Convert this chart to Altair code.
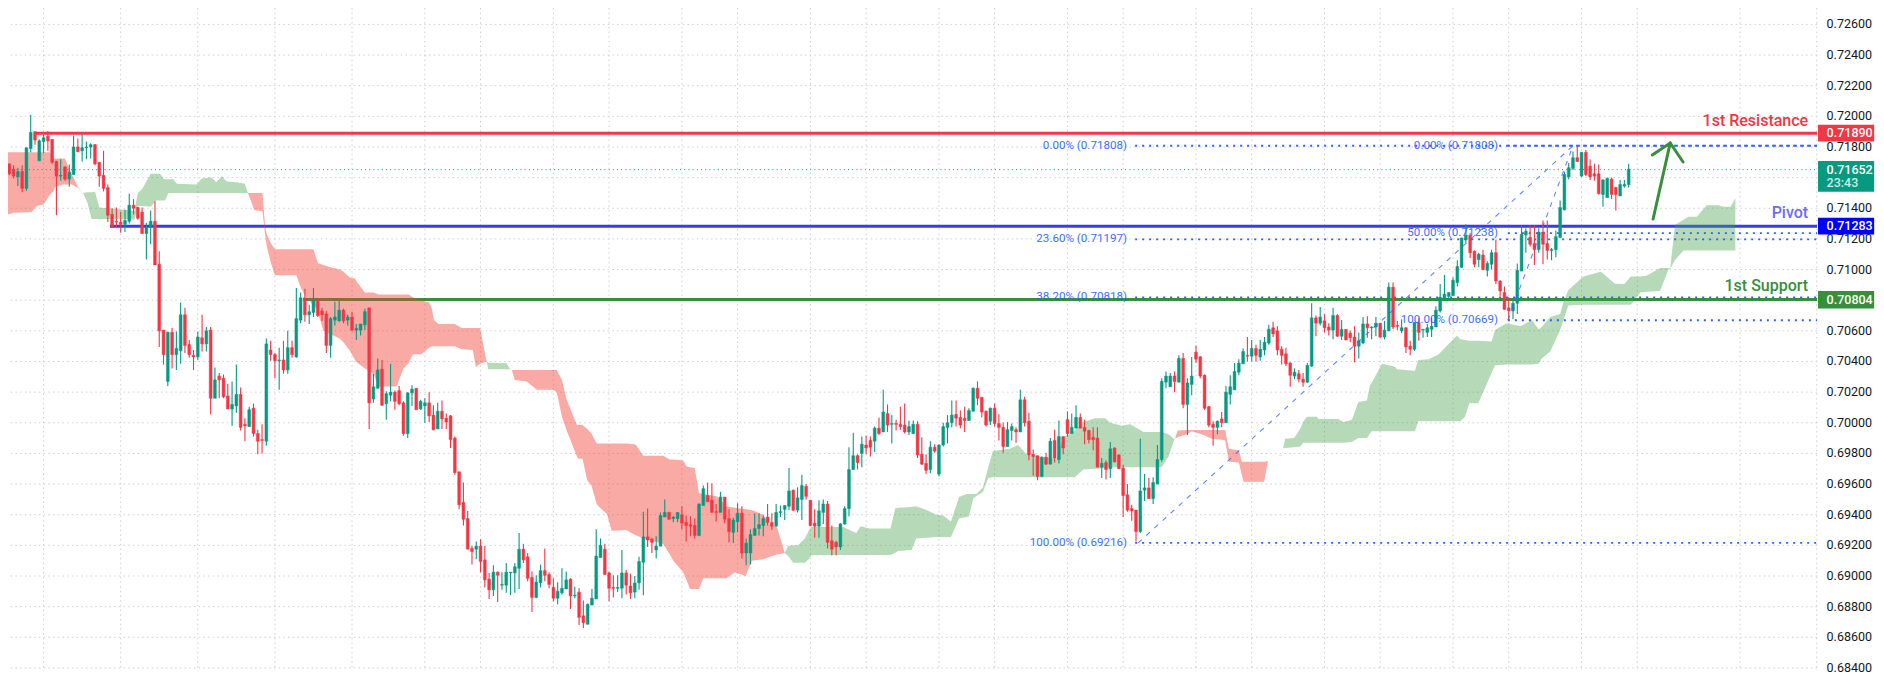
import pandas as pd
import altair as alt

# Prices below are in 1e-5 units
high = [
    71690,71680,71665,71680,71795,72010,71900,71850,71880,71905,
    71850,71710,71720,71675,71685,71875,71855,71885,71835,71825,
    71820,71700,71775,71555,71400,71405,71375,71390,71495,71460,
    71410,71405,71305,71385,71445,71120,70605,70595,70620,70595,
    70785,70750,70540,70475,70595,70705,70625,70625,70360,70325,
    70315,70255,70270,70380,70230,70030,70105,70125,69955,69990,
    70550,70535,70455,70490,70535,70600,70535,70880,70850,70875,
    70770,70880,70810,70750,70730,70690,70790,70795,70745,70705,
    70725,70645,70645,70745,70750,70320,70420,70410,70205,70385,
    70210,70240,70140,70200,70245,70225,70150,70160,70200,70115,
    70130,70145,70060,70050,69910,69680,69610,69425,69195,69225,
    69240,69195,69020,69070,69030,69025,69085,69025,69085,69280,
    69210,69150,69030,69005,69075,69180,69025,68985,68960,69050,
    69030,68985,68930,68920,68840,68820,68915,69305,69245,69210,
    69030,69005,69005,69170,69040,69015,69000,69125,69420,69440,
    69250,69260,69415,69500,69420,69390,69415,69455,69395,69390,
    69375,69475,69590,69610,69605,69470,69550,69515,69435,69380,
    69475,69455,69245,69305,69410,69410,69395,69470,69410,69470,
    69460,69460,69705,69565,69580,69660,69600,69495,69435,69495,
    69500,69490,69330,69230,69345,69455,69840,69935,69795,69910,
    69915,69910,69975,70035,70215,70120,70050,70020,70105,70125,
    70015,70015,70010,69905,69795,69880,69860,69860,70000,70050,
    70145,70145,70080,70105,70095,70230,70270,70170,70080,70100,
    70125,70055,70000,70005,69995,69970,70215,70170,70065,69825,
    69785,69780,69805,69900,69955,70015,69910,70075,70060,70115,
    70060,70020,69955,69970,69970,69770,69755,69875,69840,69795,
    69725,69600,69465,69430,69895,69665,69640,69645,69855,70290,
    70335,70325,70335,70440,70455,70290,70430,70505,70435,70315,
    70110,70010,70015,70070,70240,70310,70390,70415,70485,70560,
    70540,70510,70540,70560,70640,70660,70630,70500,70490,70395,
    70355,70345,70325,70390,70780,70700,70755,70710,70650,70750,
    70710,70670,70610,70600,70630,70590,70690,70695,70630,70690,
    70650,70665,70915,70915,70665,70675,70625,70535,70655,70685,
    70610,70645,70685,70760,70905,70965,70850,70950,71060,71210,
    71295,71240,71125,71110,71130,71055,71130,71195,70930,70890,
    70820,70815,71040,71290,71270,71290,71290,71270,71320,71320,
    71140,71255,71450,71640,71695,71770,71810,71765,71780,71720,
    71690,71685,71590,71600,71600,71540,71585,71585,71690,
]
body_top = [
    71690,71655,71640,71640,71795,71895,71900,71840,71860,71870,
    71850,71705,71615,71670,71635,71800,71800,71795,71800,71815,
    71815,71700,71615,71535,71360,71315,71310,71320,71420,71420,
    71405,71375,71275,71315,71315,71035,70605,70590,70590,70485,
    70705,70705,70510,70440,70560,70555,70600,70605,70280,70305,
    70290,70175,70120,70185,70185,69990,70085,70095,69930,69890,
    70515,70475,70445,70410,70410,70490,70490,70680,70815,70815,
    70725,70800,70800,70730,70710,70680,70690,70735,70735,70690,
    70690,70615,70645,70725,70750,70235,70345,70350,70190,70200,
    70200,70210,70130,70195,70220,70225,70140,70130,70130,70050,
    70075,70075,70030,70045,69900,69680,69480,69375,69180,69195,
    69195,69105,68980,69025,69025,68945,69025,69025,69060,69175,
    69175,69125,68990,68960,69035,69035,69010,68925,68900,68920,
    68975,68980,68875,68895,68740,68815,68855,69130,69200,69175,
    69020,68925,68925,69020,69020,68935,68955,69095,69255,69255,
    69240,69195,69395,69415,69415,69385,69415,69400,69350,69335,
    69330,69470,69570,69525,69495,69420,69515,69515,69375,69365,
    69410,69410,69215,69270,69310,69335,69375,69385,69350,69415,
    69420,69460,69555,69560,69510,69590,69585,69495,69345,69425,
    69470,69470,69230,69220,69340,69440,69695,69785,69785,69860,
    69855,69885,69965,69965,70070,70060,69995,69995,69990,69985,
    69975,69990,69990,69795,69735,69840,69840,69855,69975,70000,
    70050,70055,70035,70030,70080,70225,70225,70165,70075,70095,
    70095,69995,69970,69955,69975,69955,70150,70150,70010,69795,
    69785,69775,69775,69880,69885,69910,69910,70020,69970,70035,
    70035,69970,69950,69905,69900,69735,69740,69830,69835,69790,
    69705,69530,69440,69430,69555,69575,69575,69610,69760,70270,
    70305,70305,70305,70420,70420,70260,70305,70460,70430,70310,
    70105,69990,70010,70025,70200,70235,70335,70390,70465,70440,
    70485,70485,70480,70525,70610,70620,70600,70480,70450,70390,
    70330,70320,70285,70375,70685,70685,70690,70665,70625,70700,
    70700,70610,70610,70585,70560,70535,70645,70645,70625,70650,
    70650,70605,70885,70885,70635,70620,70620,70500,70655,70655,
    70610,70620,70630,70735,70820,70840,70850,70930,71020,71205,
    71225,71225,71120,71100,71095,71040,71110,71110,70925,70850,
    70750,70780,70995,71230,71250,71210,71170,71245,71245,71170,
    71130,71215,71405,71620,71665,71730,71730,71765,71765,71675,
    71625,71625,71585,71595,71590,71535,71555,71555,71655,
]
body_bot = [
    71625,71610,71605,71530,71530,71790,71845,71710,71835,71840,
    71700,71610,71610,71590,71590,71620,71770,71775,71795,71800,
    71690,71610,71530,71355,71275,71310,71295,71295,71315,71400,
    71335,71235,71235,71280,71030,70600,70445,70270,70445,70445,
    70470,70505,70445,70430,70430,70515,70515,70160,70160,70280,
    70170,70090,70090,70110,69970,69980,69975,69930,69880,69885,
    69880,70445,70405,70405,70345,70345,70445,70430,70670,70705,
    70705,70720,70700,70705,70505,70505,70670,70665,70665,70670,
    70605,70605,70605,70640,70130,70155,70225,70115,70125,70180,
    70140,70125,69930,69930,70195,70085,70090,70110,70045,69955,
    69960,70025,70005,69890,69675,69465,69370,69175,69160,69175,
    69095,68975,68910,68910,69005,68940,68940,69020,69020,69050,
    69105,68985,68860,68860,68955,69005,68945,68855,68855,68890,
    68915,68870,68870,68730,68695,68685,68810,68850,69120,69010,
    68920,68920,68920,68920,68940,68890,68895,68955,69090,69235,
    69220,69170,69195,69385,69370,69375,69375,69345,69330,69325,
    69265,69265,69460,69485,69415,69415,69415,69370,69290,69285,
    69355,69150,69150,69150,69265,69310,69330,69350,69325,69325,
    69415,69435,69455,69430,69430,69500,69520,69330,69325,69325,
    69415,69220,69175,69190,69190,69340,69440,69695,69740,69800,
    69835,69840,69880,69930,69940,69985,69990,69990,69975,69940,
    69940,69930,69790,69730,69690,69695,69815,69665,69855,69970,
    70000,70030,69985,70015,70015,70075,70160,70070,69985,70010,
    69995,69970,69845,69845,69950,69940,69940,70000,69790,69780,
    69650,69650,69730,69730,69770,69760,69835,69930,69930,69965,
    69965,69945,69890,69890,69710,69710,69695,69700,69745,69700,
    69525,69430,69425,69290,69290,69560,69505,69505,69600,69760,
    70265,70235,70270,70265,70120,70120,70250,70415,70305,70095,
    69985,69970,69970,70000,70000,70185,70215,70330,70385,70435,
    70435,70440,70430,70475,70520,70580,70475,70440,70385,70310,
    70305,70285,70265,70265,70370,70650,70650,70620,70605,70605,
    70565,70565,70540,70555,70500,70500,70520,70620,70620,70625,
    70560,70560,70600,70625,70630,70600,70495,70480,70480,70590,
    70605,70590,70610,70625,70730,70800,70825,70830,70915,71015,
    71195,71110,71035,71065,71000,70995,71035,70925,70860,70740,
    70730,70730,70780,70990,71225,71165,71130,71130,71165,71125,
    71125,71130,71210,71390,71605,71660,71705,71610,71620,71605,
    71610,71495,71490,71470,71490,71490,71480,71545,71555,
]
low = [
    71615,71595,71545,71505,71515,71765,71815,71710,71760,71775,
    71690,71355,71580,71580,71540,71620,71765,71705,71720,71725,
    71680,71540,71510,71310,71275,71275,71240,71245,71300,71360,
    71325,71235,71065,71165,71030,70495,70380,70240,70355,70345,
    70385,70455,70425,70345,70410,70465,70465,70055,70160,70160,
    70160,70090,69980,70065,69950,69880,69975,69910,69795,69800,
    69850,70405,70290,70215,70320,70320,70425,70425,70650,70660,
    70645,70690,70690,70665,70455,70425,70635,70660,70650,70635,
    70595,70540,70570,70605,69960,70130,70225,70110,70020,70140,
    70085,70115,69915,69900,70110,70085,70085,70000,70005,69950,
    69960,69960,69960,69835,69660,69435,69330,69175,69075,69110,
    69025,68925,68850,68870,68830,68910,68890,68875,68890,68915,
    69085,68965,68765,68855,68925,68965,68920,68835,68815,68880,
    68915,68785,68855,68680,68660,68685,68810,68850,69120,69010,
    68835,68860,68895,68855,68880,68850,68855,68910,68875,69190,
    69150,69115,69195,69385,69370,69350,69350,69305,69225,69260,
    69245,69260,69460,69485,69415,69355,69415,69345,69220,69215,
    69285,69115,69070,69075,69265,69265,69260,69330,69300,69325,
    69385,69365,69430,69425,69415,69365,69500,69325,69250,69250,
    69340,69180,69135,69135,69170,69335,69390,69695,69695,69710,
    69795,69780,69810,69920,69940,69940,69865,69950,69955,69930,
    69920,69925,69770,69725,69665,69670,69805,69650,69845,69865,
    69970,69975,69965,69940,70015,70075,70115,70035,69975,69985,
    69975,69885,69805,69845,69885,69870,69940,69975,69755,69655,
    69625,69645,69725,69730,69740,69735,69795,69910,69930,69965,
    69965,69860,69865,69820,69710,69640,69630,69640,69740,69700,
    69385,69420,69360,69225,69280,69490,69505,69470,69600,69745,
    70225,70235,70200,70265,70095,69920,70180,70390,70290,70085,
    69970,69850,69925,69970,70000,70120,70215,70310,70385,70400,
    70400,70400,70405,70440,70510,70560,70440,70380,70370,70235,
    70285,70265,70235,70260,70365,70565,70635,70590,70570,70545,
    70560,70540,70540,70525,70395,70420,70515,70555,70545,70565,
    70555,70545,70600,70610,70605,70585,70455,70440,70470,70535,
    70555,70560,70560,70625,70720,70800,70800,70830,70890,71010,
    71175,71075,71015,71015,70995,70955,71000,70905,70825,70740,
    70670,70675,70710,70990,71110,71150,71030,71110,71035,71065,
    71060,71080,71205,71385,71590,71650,71705,71605,71610,71585,
    71580,71490,71410,71470,71460,71385,71480,71535,71535,
]
direction = """
d d u d u u d u u d
d d u d u u d u u u
d d d d d d d u u d
d d u u d d d u d u
u d d d u d u d u d
d d u u d d u d d d
u d d u d u d u u d
u u d d d u u u d u
d u u u d u u d u u
d d d u u d u u d d
u d d d d d d d d u
d d d u d u u u u u
d d d u u d d d u u
u d u d d u u u u d
d d u u d d u u u d
d u u u d u u d d d
d u u d d d u d d u
u d u u u u u d d u
u u u d u u d d d u
u d d d u u u u d u
d d u d u d u d d d
u u d d d u d u u u
u d d d u u d d d u
d d d u u d u d d d
d u d u d u d d u u
d d d d d u d u d d
d d d d u u d u u u
u u d u d u u d d d
d d u d u u u u u d
u d u u u d d d d d
u d d u u d u d d u
d u d d d u u d u u
d u u d d u d d u d
u u u u u u u u u u
u d d u d u u d d d
d u u u u d d u d d
u u u u u u d u d d
d d u u d d u u u
""".split()

# Cloud outline knots: bar position, upper edge, lower edge
red1_x = [0.7,2,6.2,7.4,9,10.5,11.3,11.7,13.6,14,15.6,17.1,18.1]
red1_top = [71765,71765,71765,71765,71765,71765,71725,71725,71725,71725,71620,71535,71495]
red1_bot = [71360,71370,71375,71415,71425,71490,71510,71540,71555,71555,71555,71530,71495]

green1_x = [18.2,19.2,20.2,21,22,28,30.2,31,32,34,35.3,36.2,37.1,37.4,38.1,39.3,40.1,44.7,45.9,48.2,49.3,50.6,51.7,54.1,56,56.7]
green1_top = [71500,71505,71505,71510,71405,71390,71380,71500,71525,71625,71625,71625,71590,71590,71590,71590,71560,71555,71595,71600,71570,71610,71575,71570,71560,71500]
green1_bot = [71500,71440,71330,71330,71330,71330,71325,71415,71415,71410,71450,71450,71450,71450,71500,71500,71500,71500,71500,71500,71500,71500,71500,71500,71500,71500]

red2_x = [56.7,58.2,60.1,60.7,61.1,62.1,63,68,68.9,70,71.2,72,72.8,73.1,74.3,75.9,78.2,79,80.5,81.7,82.1,84,86,87.2,91.4,93,94.2,95.2,97.1,99,99.6,100.1,101.2,105,106.6,109.2,109.9,110.9,112.4]
red2_top = [71500,71500,71500,71284,71230,71170,71132,71132,71132,71132,71132,71132,71060,71041,71030,71015,71000,70985,70948,70941,70920,70850,70850,70837,70837,70837,70837,70820,70800,70785,70750,70670,70644,70644,70618,70618,70618,70618,70400]
red2_bot = [71500,71388,71380,71230,71150,71040,70963,70963,70893,70828,70790,70765,70745,70720,70600,70580,70548,70525,70470,70410,70395,70355,70323,70236,70236,70355,70388,70448,70448,70490,70500,70500,70500,70500,70480,70475,70364,70385,70400]

green2_x = [112.4,112.8,117.1,117.9]
green2_top = [70400,70392,70388,70350]
green2_bot = [70400,70350,70350,70350]

red3_x = [118.3,119,121.8,124.1,128,128.8,130,131.1,133.5,133.8,134.8,135.9,136.9,138.1,138.5,140.5,141.6,145,147,147.4,149,153.6,155.2,156,158.3,159.1,159.9,161,162,163,166.1,168.4,170.4,172.9,174.3,177,178.5,180.2,182]
red3_top = [70345,70345,70345,70345,70345,70345,70280,70150,69986,69986,69986,69960,69930,69865,69865,69865,69865,69865,69860,69850,69785,69785,69760,69760,69754,69715,69710,69705,69540,69535,69520,69455,69445,69435,69430,69400,69335,69320,69150]
red3_bot = [70345,70280,70270,70215,70215,70200,70040,69950,69780,69765,69765,69625,69590,69470,69455,69405,69295,69300,69270,69265,69245,69210,69140,69100,69025,68970,68915,68915,68915,68985,68985,68985,69025,69000,69100,69110,69125,69140,69150]

green3_x = [182,182.8,184,185.1,186.7,187.6,188.2,195.6,198.7,199.7,201.8,206.7,207.8,208.4,211.6,212.7,215.1,217.4,219,220.8,222.7,224.4,225,226,226.7,228.3,229.5,230.6,234.5,236.5,238.6,243.1,245.4,247,248.9,249.7,251.7,254.4,256.8,258,260.7,262.6,265.8,270,271.6,272.8,273.1]
green3_top = [69150,69197,69200,69200,69245,69295,69320,69320,69280,69325,69310,69310,69440,69445,69450,69455,69430,69400,69395,69355,69515,69535,69535,69535,69535,69580,69710,69815,69830,69855,69790,69775,69765,69905,69930,69950,70005,70030,70030,70000,69980,69990,69940,69940,69925,69895,69895]
green3_bot = [69150,69130,69087,69087,69087,69110,69135,69137,69137,69137,69137,69137,69150,69163,69170,69245,69250,69255,69255,69255,69375,69385,69390,69505,69520,69550,69640,69645,69645,69645,69645,69645,69645,69645,69645,69645,69695,69700,69705,69710,69710,69710,69710,69710,69780,69880,69895]

red4_x = [273.1,273.7,275.9,277,279.8,281.7,284,284.8,285.7,288,288.7,289.1,293.9,294.8]
red4_top = [69895,69950,69953,69953,69953,69953,69953,69953,69830,69820,69745,69745,69745,69750]
red4_bot = [69895,69905,69925,69945,69920,69895,69890,69885,69745,69740,69660,69615,69615,69750]

green4_x = [297.1,298,298.4,298.8,300.9,302.3,303.1,303.9,306.2,306.6,311.2,312.4,314.4,315.9,317.9,318.6,319,321.4,324.5,324.9,329.1,329.9,332.3,334.6,338.9,339.7,340.8,341.8,343.9,347,347.8,350.5,353.7,356.4,358,358.7,360.7,363,363.8,364.9,368.4,372.5,375.8,378,379.5,381.7,383.2,386.3,388.3,388.7,389.8,391.8,393,394.9,397.2,400,401.1,402.8,403.9]
green4_top = [69785,69790,69840,69895,69900,69960,70010,70040,70040,70025,70025,70005,70020,70135,70145,70245,70260,70385,70365,70350,70340,70410,70415,70445,70570,70545,70540,70535,70535,70530,70605,70650,70630,70670,70610,70625,70690,70710,70790,70865,70955,70985,70908,70905,70955,70955,70960,71010,71010,71010,71290,71325,71345,71345,71420,71420,71410,71410,71465]
green4_bot = [69785,69785,69835,69835,69840,69845,69870,69870,69870,69870,69870,69870,69875,69900,69900,69930,69945,69945,69945,69945,69945,70010,70010,70010,70010,70010,70040,70127,70127,70325,70375,70380,70380,70380,70385,70420,70465,70605,70670,70765,70770,70770,70770,70770,70770,70850,70855,70860,71000,71005,71060,71125,71125,71125,71125,71125,71125,71125,71125]

# Gridlines and axis labels
price_ticks = [0.684,0.686,0.688,0.690,0.692,0.694,0.696,0.698,0.700,0.702,0.704,0.706,0.708,0.710,0.712,0.714,0.716,0.718,0.720,0.722,0.724,0.726]
hidden_labels = [0.708, 0.716]  # sit under the price tags
time_grid = [9,27,45,63,81,98,111,128,141,158,171,188,201,218,231,248,261,278,291,308,321,338,351,368,381,405,422.9]

# Levels
level_name = ["1st Resistance", "Pivot", "1st Support"]
level_price = [0.71890, 0.71283, 0.70804]
level_label_price = [0.7197, 0.7137, 0.7089]
level_start = [6.8, 24.5, 69.6]
level_color = ["#F7344A", "#3A3AF5", "#388E3C"]
level_text_color = ["#F23645", "#6B6BFF", "#388E3C"]

fib_price = [0.71808, 0.71197, 0.70818, 0.69216, 0.71808, 0.71238, 0.70669]
fib_start = [263.8, 263.8, 263.8, 263.8, 350.8, 350.8, 350.8]
fib_label = ["0.00% (0.71808)", "23.60% (0.71197)", "38.20% (0.70818)", "100.00% (0.69216)",
             "0.00% (0.71808)", "50.00% (0.71238)", "100.00% (0.70669)"]
fib_label_x = [261.9, 261.9, 261.9, 261.9, 348.5, 348.5, 348.5]

x_min, x_max = 0.697, 422.96
y_min, y_max = 0.68380, 0.72707
x_scale = alt.Scale(domain=[x_min, x_max], nice=False, zero=False, padding=0)
y_scale = alt.Scale(domain=[y_min, y_max], nice=False, zero=False)

FONT = "Roboto"
UP = "#089981"
DOWN = "#F23645"
GRID = "#cfcfcf"


def X(f, **kw):
    return alt.X(f, scale=x_scale, axis=None, **kw)


def Y(f, **kw):
    return alt.Y(f, scale=y_scale, axis=None, **kw)


candles = pd.DataFrame({
    'i': range(1, len(high) + 1),
    'high': [v / 1e5 for v in high],
    'low': [v / 1e5 for v in low],
    'top': [v / 1e5 for v in body_top],
    'bot': [v / 1e5 for v in body_bot],
    'dir': direction,
})
candles['c'] = candles['dir'].map({'u': UP, 'd': DOWN})

clouds = []
for n, (cx, ct, cb, col) in enumerate([
    (red1_x, red1_top, red1_bot, 'red'),
    (green1_x, green1_top, green1_bot, 'green'),
    (red2_x, red2_top, red2_bot, 'red'),
    (green2_x, green2_top, green2_bot, 'green'),
    (red3_x, red3_top, red3_bot, 'red'),
    (green3_x, green3_top, green3_bot, 'green'),
    (red4_x, red4_top, red4_bot, 'red'),
    (green4_x, green4_top, green4_bot, 'green'),
]):
    clouds.append(pd.DataFrame({'x': cx, 't': [v / 1e5 for v in ct], 'b': [v / 1e5 for v in cb],
                                'seg': n, 'kind': col}))
clouds = pd.concat(clouds)

# Grid and right price axis
grid_v = alt.Chart(pd.DataFrame({'x': time_grid})).mark_rule(
    color=GRID, strokeWidth=1, strokeDash=[1.5, 3.2]).encode(x=X('x:Q'))
ticks_df = pd.DataFrame({'y': price_ticks, 't': [f'{v:.5f}' for v in price_ticks], 'x': 425.2})
grid_h = alt.Chart(ticks_df).mark_rule(
    color=GRID, strokeWidth=1, strokeDash=[1.5, 3.2]).encode(y=Y('y:Q'))
tick_text = alt.Chart(ticks_df[~ticks_df['y'].isin(hidden_labels)]).mark_text(
    align='left', baseline='middle', font=FONT, fontSize=12.5, color='#131722'
).encode(x=X('x:Q'), y=Y('y:Q'), text='t:N')

levels_df = pd.DataFrame({'x': level_start, 'x2': x_max, 'y': level_price, 'c': level_color})
levels = alt.Chart(levels_df).mark_rule(strokeWidth=3).encode(
    x=X('x:Q'), x2='x2:Q', y=Y('y:Q'), color=alt.Color('c:N', scale=None))

last_price = alt.Chart(pd.DataFrame({'x': [x_min], 'x2': [x_max], 'y': [0.71652]})).mark_rule(
    color=UP, strokeWidth=1, strokeDash=[1, 3.2]
).encode(x=X('x:Q'), x2='x2:Q', y=Y('y:Q'))

cloud = alt.Chart(clouds).mark_area(interpolate='linear').encode(
    x=X('x:Q'), y=Y('t:Q'), y2='b:Q', detail='seg:N',
    color=alt.Color('kind:N', scale=alt.Scale(domain=['red', 'green'], range=['#F44336', '#3F9E45']), legend=None),
    opacity=alt.Opacity('kind:N', scale=alt.Scale(domain=['red', 'green'], range=[0.45, 0.38]), legend=None),
)

fib_df = pd.DataFrame({'x': fib_start, 'x2': x_max, 'y': fib_price, 'lx': fib_label_x, 't': fib_label})
fib_lines = alt.Chart(fib_df).mark_rule(color='#2962FF', strokeWidth=1.8, strokeDash=[2, 5]).encode(
    x=X('x:Q'), x2='x2:Q', y=Y('y:Q'))
fib_text = alt.Chart(fib_df).mark_text(align='right', baseline='middle', font=FONT, fontSize=11.6,
                                       color='#2962FF', opacity=0.9).encode(
    x=X('lx:Q'), y=Y('y:Q'), text='t:N')

diag_df = pd.DataFrame({'x': [264.5, 366, 350.8, 366], 'y': [0.69216, 0.71808, 0.70669, 0.71808],
                        'g': ['a', 'a', 'b', 'b']})
diag = alt.Chart(diag_df).mark_line(color='#2962FF', strokeWidth=1.1, strokeDash=[5, 6], opacity=0.75).encode(
    x=X('x:Q'), y=Y('y:Q'), detail='g:N')

wicks = alt.Chart(candles).mark_rule(strokeWidth=1.1).encode(
    x=X('i:Q'), y=Y('high:Q'), y2='low:Q', color=alt.Color('c:N', scale=None))
bodies = alt.Chart(candles).mark_bar(size=2.8, strokeWidth=0.5).encode(
    x=X('i:Q'), y=Y('top:Q'), y2='bot:Q',
    color=alt.Color('c:N', scale=None), stroke=alt.Stroke('c:N', scale=None))

arrow_df = pd.DataFrame({'x': [384.7, 388.7, 384.5, 388.7, 391.7],
                         'y': [0.71330, 0.71826, 0.71748, 0.71826, 0.71702],
                         'g': ['s', 's', 'h', 'h', 'h']})
arrow = alt.Chart(arrow_df).mark_line(color='#388E3C', strokeWidth=3, strokeCap='round').encode(
    x=X('x:Q'), y=Y('y:Q'), detail='g:N', order=alt.Order('ord:Q')
).transform_window(ord='row_number()', groupby=['g'])

names_df = pd.DataFrame({'x': [420.9] * 3, 'y': level_label_price, 't': level_name, 'c': level_text_color})
names = alt.Chart(names_df).mark_text(align='right', baseline='middle', font=FONT, fontSize=16, fontWeight=500).encode(
    x=X('x:Q'), y=Y('y:Q'), text='t:N', color=alt.Color('c:N', scale=None))

# Price tags on the axis
tag_df = pd.DataFrame({
    'x': [423.2] * 4, 'x2': [436.3] * 4,
    'y': [0.71945, 0.71709, 0.71338, 0.70860],
    'y2': [0.71835, 0.71508, 0.71228, 0.70746],
    'c': ['#F23645', '#089981', '#0000FF', '#388E3C'],
})
tags = alt.Chart(tag_df).mark_rect().encode(
    x=X('x:Q'), x2='x2:Q', y=Y('y:Q'), y2='y2:Q', color=alt.Color('c:N', scale=None))
tag_text_df = pd.DataFrame({
    'x': [425.2] * 5,
    'y': [0.71890, 0.71652, 0.71565, 0.71283, 0.70804],
    't': ['0.71890', '0.71652', '23:43', '0.71283', '0.70804'],
    'c': ['#ffffff', '#ffffff', '#c8ebe4', '#ffffff', '#ffffff'],
})
tag_text = alt.Chart(tag_text_df).mark_text(align='left', baseline='middle', font=FONT, fontSize=12.5, fontWeight=500).encode(
    x=X('x:Q'), y=Y('y:Q'), text='t:N', color=alt.Color('c:N', scale=None))

chart = alt.layer(
    grid_v, grid_h, tick_text, levels, last_price, cloud, fib_lines, wicks, bodies, diag, fib_text,
    arrow, names, tags, tag_text
).resolve_scale(color='independent', opacity='independent', stroke='independent').properties(
    width=1809, height=663,
    padding={'left': 0, 'top': 0, 'right': 59, 'bottom': 5},
    autosize=alt.AutoSizeParams(type='none'),
    background='white',
).configure_view(stroke=None)

chart.save("out.html", embed_options={"renderer": "svg", "actions": False})
